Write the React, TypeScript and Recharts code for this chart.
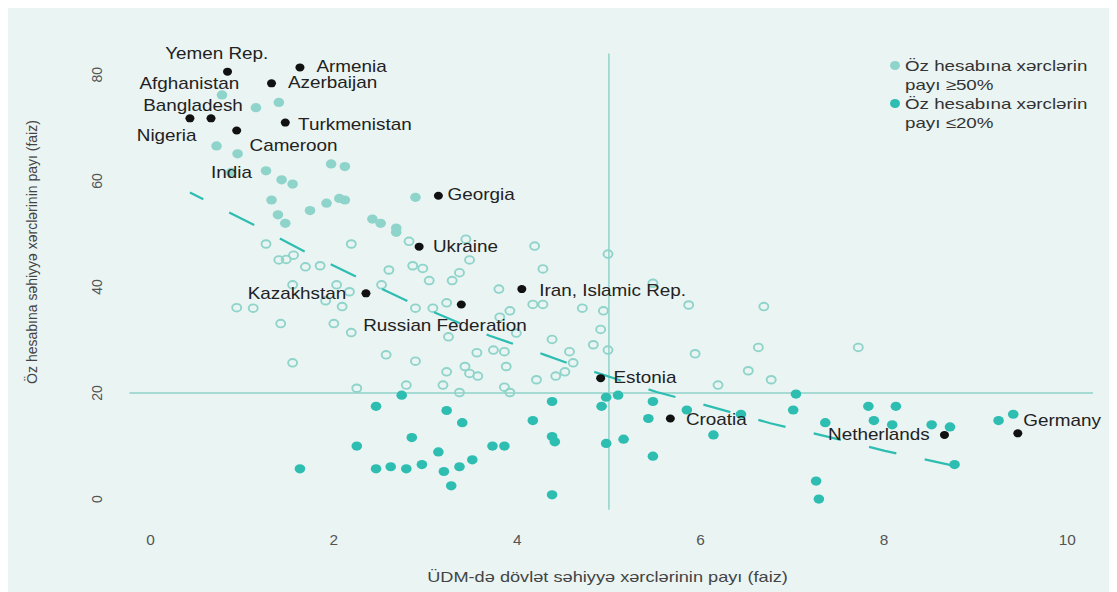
import React from "react";
import {
  ScatterChart,
  Scatter,
  XAxis,
  YAxis,
  ReferenceLine,
  Legend,
  Label,
} from "recharts";

// axis ticks
const xTicks = [0, 2, 4, 6, 8, 10];
const yTicks = [0, 20, 40, 60, 80];

// out-of-pocket share >= 50%
const highShare: [number, number][] = [
  [0.78, 76.2], [1.15, 73.8], [1.4, 74.8], [0.72, 66.6], [0.95, 65.1], [0.88, 61.6],
  [1.26, 61.9], [1.43, 60.2], [1.55, 59.4], [1.97, 63.2], [2.12, 62.7], [1.32, 56.4],
  [1.74, 54.4], [1.92, 55.8], [2.06, 56.7], [2.12, 56.4], [2.89, 56.9], [1.39, 53.6],
  [1.47, 52.0], [2.42, 52.8], [2.51, 52.0], [2.68, 51.1], [2.68, 50.3],
];

// between 20% and 50%
const midShare: [number, number][] = [
  [1.26, 48.1], [2.19, 48.1], [2.82, 48.6], [3.44, 49.0], [4.19, 47.7], [4.99, 46.2],
  [1.4, 45.1], [1.48, 45.2], [1.56, 46.0], [1.69, 43.8], [1.85, 44.0], [2.6, 43.2],
  [2.86, 44.0], [2.97, 43.5], [3.48, 45.1], [3.37, 42.7], [3.04, 41.2], [3.29, 41.2],
  [4.28, 43.4], [1.55, 40.4], [2.03, 40.4], [2.17, 39.1], [2.52, 40.4], [3.8, 39.6],
  [5.48, 40.7], [1.91, 37.4], [2.09, 36.3], [0.94, 36.1], [1.12, 36.0], [2.89, 36.0],
  [3.08, 36.0], [3.23, 37.0], [3.92, 35.5], [3.81, 34.3], [4.17, 36.7], [4.28, 36.7],
  [4.71, 36.0], [4.94, 35.5], [5.87, 36.6], [6.69, 36.3], [1.42, 33.1], [2.0, 33.1],
  [2.19, 31.4], [3.25, 30.6], [3.99, 31.3], [4.91, 32.0], [4.38, 30.1], [4.83, 29.1],
  [4.99, 28.1], [6.63, 28.6], [7.72, 28.6], [2.57, 27.2], [2.89, 26.0], [1.55, 25.7],
  [3.74, 28.1], [3.86, 27.8], [3.56, 27.6], [4.57, 27.8], [4.61, 25.7], [4.52, 24.0],
  [4.42, 23.2], [5.94, 27.4], [3.23, 24.0], [3.43, 25.0], [3.48, 23.7], [3.57, 23.2],
  [3.88, 25.0], [4.21, 22.5], [6.52, 24.2], [6.77, 22.5], [3.19, 21.5], [2.79, 21.5],
  [2.25, 20.9], [3.37, 20.1], [3.86, 21.1], [3.92, 20.1], [6.19, 21.5],
];

// out-of-pocket share <= 20%
const lowShare: [number, number][] = [
  [2.74, 19.6], [3.23, 16.7], [4.38, 18.4], [4.97, 19.2], [5.1, 19.6], [4.92, 17.5],
  [5.48, 18.4], [5.85, 16.8], [2.46, 17.5], [3.4, 14.4], [4.17, 14.8], [4.97, 10.5],
  [5.16, 11.3], [4.38, 11.8], [4.41, 10.8], [2.25, 10.0], [2.85, 11.6], [3.73, 10.0],
  [3.86, 10.0], [3.14, 8.9], [3.51, 7.4], [2.96, 6.5], [3.37, 6.1], [3.2, 5.2],
  [2.46, 5.7], [2.62, 6.1], [2.79, 5.7], [1.63, 5.7], [3.28, 2.5], [4.38, 0.8],
  [7.04, 19.8], [5.43, 15.2], [6.44, 16.0], [7.01, 16.8], [7.83, 17.5], [8.13, 17.5],
  [7.36, 14.4], [7.89, 14.8], [8.09, 14.0], [8.52, 14.0], [8.72, 13.6], [9.25, 14.8],
  [9.41, 16.0], [6.14, 12.1], [5.48, 8.1], [8.77, 6.5], [7.26, 3.4], [7.29, 0.0],
];

// highlighted countries (black dots)
const highlighted: [string, number, number][] = [
  ["Yemen Rep.", 0.84, 80.6], ["Armenia", 1.63, 81.4], ["Azerbaijan", 1.32, 78.4],
  ["Nigeria", 0.43, 71.8], ["Bangladesh", 0.66, 71.8], ["Cameroon", 0.94, 69.5],
  ["Turkmenistan", 1.47, 71.0], ["Georgia", 3.14, 57.2], ["Ukraine", 2.93, 47.6],
  ["Kazakhstan", 2.35, 38.8], ["Russian Federation", 3.39, 36.7],
  ["Iran, Islamic Rep.", 4.05, 39.6], ["Estonia", 4.91, 22.8], ["Croatia", 5.67, 15.2],
  ["Netherlands", 8.66, 12.1], ["Germany", 9.46, 12.4],
];

// country name labels (where the text starts)
const countryLabels: [string, number, number][] = [
  ["Yemen Rep.", 0.16, 84.0], ["Armenia", 1.81, 81.6], ["Azerbaijan", 1.5, 78.5],
  ["Afghanistan", -0.12, 78.3], ["Bangladesh", -0.08, 74.2], ["Nigeria", -0.15, 68.5],
  ["Cameroon", 1.08, 66.6], ["Turkmenistan", 1.61, 70.6], ["India", 0.66, 61.6],
  ["Georgia", 3.24, 57.4], ["Ukraine", 3.08, 47.7], ["Kazakhstan", 1.06, 38.8],
  ["Russian Federation", 2.32, 32.8], ["Iran, Islamic Rep.", 4.24, 39.4],
  ["Estonia", 5.05, 23.0], ["Croatia", 5.84, 15.0], ["Netherlands", 7.39, 12.2],
  ["Germany", 9.52, 14.9],
];

// dashed trend curve
const trend: [number, number][] = [
  [0.43, 57.8], [1.14, 51.6], [1.68, 46.7], [2.26, 41.8], [2.82, 37.2], [3.7, 30.8],
  [4.3, 27.2], [4.57, 25.5], [5.52, 20.2], [6.14, 17.3], [6.76, 14.3], [7.45, 11.5],
  [8.01, 9.1], [8.76, 6.3],
];

// reference rules at 5% of GDP and 20% out-of-pocket
const vRule = [{ x: 5, y: -2 }, { x: 5, y: 84 }];
const hRule = [{ x: -0.23, y: 20 }, { x: 10.28, y: 20 }];

const legendItems = [
  { name: "Öz hesabına xərclərin payı ≥50%", color: "#8ed4ca" },
  { name: "Öz hesabına xərclərin payı ≤20%", color: "#2ebdb1" },
];

const FONT = "'Liberation Sans', Arial, sans-serif";
const BG = "#eaf4f3";
const LIGHT = "#8ed4ca";
const TEAL = "#2ebdb1";
const RULE = "#8fd3c9";
const INK = "#222";

const pts = (arr: [number, number][]) => arr.map(([x, y]) => ({ x, y }));
const named = (arr: [string, number, number][]) => arr.map(([name, x, y]) => ({ name, x, y }));

const XTick = ({ x, y, payload }: any) => (
  <text
    transform={`translate(${x} ${y + 25}) scale(1.1 1)`}
    textAnchor="middle"
    dominantBaseline="central"
    fontFamily={FONT}
    fontSize={14}
    fill="#555"
  >
    {payload.value}
  </text>
);

const YTick = ({ x, y, payload }: any) => (
  <text
    transform={`translate(${x - 26} ${y}) rotate(-90)`}
    textAnchor="middle"
    dominantBaseline="central"
    fontFamily={FONT}
    fontSize={14}
    fill="#555"
  >
    {payload.value}
  </text>
);

const renderLegend = () => (
  <div style={{ fontFamily: FONT, fontSize: 15, lineHeight: "19px", color: "#333" }}>
    {legendItems.map((item) => {
      const [first, ...rest] = item.name.split(" payı");
      return (
        <div key={item.name} style={{ position: "relative", paddingLeft: 18 }}>
          <span
            style={{
              position: "absolute",
              left: 3,
              top: 5,
              width: 10,
              height: 9,
              borderRadius: "50%",
              background: item.color,
            }}
          />
          <div style={{ transform: "scaleX(1.25)", transformOrigin: "left", whiteSpace: "nowrap" }}>
            {first}
          </div>
          <div style={{ transform: "scaleX(1.25)", transformOrigin: "left", whiteSpace: "nowrap" }}>
            {"payı" + rest.join(" payı")}
          </div>
        </div>
      );
    })}
  </div>
);

export default function App() {
  return (
    <div style={{ width: 1101, height: 584, background: BG }}>
      <ScatterChart width={1101} height={584} margin={{ top: 35, right: 5, bottom: 0, left: 0 }}>
        <XAxis
          type="number"
          dataKey="x"
          domain={[-0.3, 10.4]}
          ticks={xTicks}
          height={77}
          axisLine={false}
          tickLine={false}
          tickSize={0}
          tickMargin={0}
          tick={<XTick />}
        >
          <Label
            content={({ viewBox }: any) => (
              <text
                transform={`translate(${viewBox.x + viewBox.width / 2 - 6} ${viewBox.y + 62}) scale(1.3 1)`}
                textAnchor="middle"
                dominantBaseline="central"
                fontFamily={FONT}
                fontSize={14}
                fill="#444"
              >
                ÜDM-də dövlət səhiyyə xərclərinin payı (faiz)
              </text>
            )}
          />
        </XAxis>
        <YAxis
          type="number"
          dataKey="y"
          domain={[-3, 86]}
          ticks={yTicks}
          width={115}
          axisLine={false}
          tickLine={false}
          tickSize={0}
          tickMargin={0}
          tick={<YTick />}
        >
          <Label
            content={({ viewBox }: any) => (
              <text
                transform={`translate(24 ${viewBox.y + viewBox.height / 2 - 27}) rotate(-90)`}
                textAnchor="middle"
                dominantBaseline="central"
                fontFamily={FONT}
                fontSize={14}
                fill="#444"
              >
                Öz hesabına səhiyyə xərclərinin payı (faiz)
              </text>
            )}
          />
        </YAxis>

        <ReferenceLine segment={vRule} stroke={RULE} strokeWidth={1.5} />
        <ReferenceLine segment={hRule} stroke={RULE} strokeWidth={1.5} />

        <Scatter
          name={legendItems[0].name}
          data={pts(highShare)}
          fill={LIGHT}
          isAnimationActive={false}
          shape={(p: any) => <ellipse cx={p.cx} cy={p.cy} rx={5.3} ry={4.6} fill={LIGHT} />}
        />
        <Scatter
          name="mid"
          data={pts(midShare)}
          legendType="none"
          isAnimationActive={false}
          shape={(p: any) => (
            <ellipse cx={p.cx} cy={p.cy} rx={4.5} ry={3.8} fill="none" stroke={LIGHT} strokeWidth={1.9} />
          )}
        />
        <Scatter
          name={legendItems[1].name}
          data={pts(lowShare)}
          fill={TEAL}
          isAnimationActive={false}
          shape={(p: any) => <ellipse cx={p.cx} cy={p.cy} rx={5.3} ry={4.6} fill={TEAL} />}
        />
        <Scatter
          name="trend"
          data={pts(trend)}
          legendType="none"
          isAnimationActive={false}
          line={{ stroke: TEAL, strokeWidth: 2.2, strokeDasharray: "28 29", strokeDashoffset: 13 }}
          lineType="joint"
          shape={() => <g />}
        />
        <Scatter
          name="highlighted"
          data={named(highlighted)}
          legendType="none"
          isAnimationActive={false}
          shape={(p: any) => <ellipse cx={p.cx} cy={p.cy} rx={4.5} ry={4} fill="#111" />}
        />
        <Scatter
          name="labels"
          data={named(countryLabels)}
          legendType="none"
          isAnimationActive={false}
          shape={(p: any) => (
            <text
              transform={`translate(${p.cx} ${p.cy}) scale(1.18 1)`}
              dominantBaseline="central"
              fontFamily={FONT}
              fontSize={16}
              fill={INK}
            >
              {p.payload?.name ?? p.name}
            </text>
          )}
        />

        <Legend
          align="center"
          verticalAlign="middle"
          layout="horizontal"
          content={renderLegend}
          wrapperStyle={{ top: 48, left: 879, width: 220, height: 80 }}
        />
      </ScatterChart>
    </div>
  );
}
